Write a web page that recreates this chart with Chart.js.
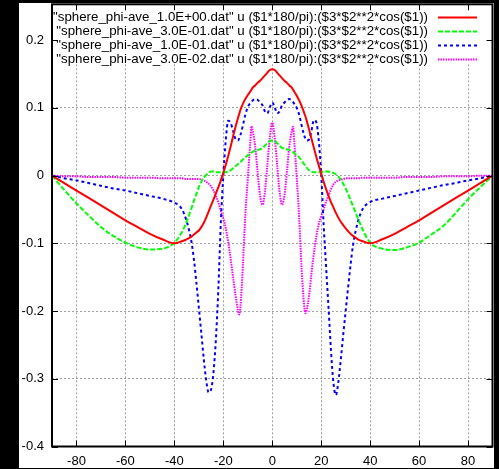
<!DOCTYPE html>
<html>
<head>
<meta charset="utf-8">
<script src="https://cdn.jsdelivr.net/npm/chart.js@4.4.1/dist/chart.umd.min.js"></script>
<style>
  html, body { margin: 0; padding: 0; background: #000; }
  canvas { display: block; }
</style>
</head>
<body>
<canvas id="myChart" width="499" height="469"></canvas>
<script>
// angle in degrees (shared by all four files)
var angle = [-90, -85, -80, -75, -70, -65, -60, -55, -50, -45, -40, -37, -35,
  -33, -32, -31, -30, -29, -28, -27, -26, -25, -24, -23, -22, -21, -20, -19, -18, -17, -16, -15, -14,
  -13.5, -13, -12, -11, -10, -9, -8.5, -8, -7, -6, -5, -4, -3, -2, -1,
  0,
  1, 2, 3, 4, 5, 6, 7, 8, 8.5, 9, 10, 11, 12, 13, 13.5,
  14, 15, 16, 17, 18, 19, 20, 21, 22, 23, 24, 25, 26, 27, 28, 29, 30, 31, 32, 33,
  35, 37, 40, 45, 50, 55, 60, 65, 70, 75, 80, 85, 90];

var ave1_0E00 = [0, -0.011, -0.022, -0.033, -0.044, -0.055, -0.066, -0.076, -0.086, -0.094, -0.100, -0.097, -0.094,
  -0.090, -0.087, -0.084, -0.081, -0.076, -0.070, -0.062, -0.053, -0.044, -0.035, -0.026, -0.017, -0.007, 0.004, 0.016, 0.029, 0.043, 0.058, 0.072, 0.085,
  0.091, 0.097, 0.106, 0.113, 0.119, 0.124, 0.127, 0.130, 0.133, 0.137, 0.140, 0.144, 0.148, 0.152, 0.156,
  0.157,
  0.156, 0.152, 0.148, 0.144, 0.140, 0.137, 0.133, 0.130, 0.127, 0.124, 0.118, 0.111, 0.103, 0.093, 0.088,
  0.082, 0.069, 0.055, 0.041, 0.028, 0.015, 0.003, -0.009, -0.020, -0.030, -0.039, -0.047, -0.055, -0.062, -0.068, -0.073, -0.078, -0.082, -0.086, -0.089,
  -0.094, -0.097, -0.100, -0.094, -0.086, -0.076, -0.066, -0.055, -0.044, -0.033, -0.022, -0.011, 0];

var ave3_0E01 = [0, -0.021, -0.041, -0.059, -0.076, -0.089, -0.099, -0.106, -0.109, -0.108, -0.099, -0.084, -0.068,
  -0.048, -0.037, -0.027, -0.017, -0.009, -0.003, 0.001, 0.004, 0.006, 0.006, 0.005, 0.005, 0.005, 0.005, 0.005, 0.006, 0.008, 0.011, 0.014, 0.017,
  0.019, 0.020, 0.024, 0.027, 0.030, 0.032, 0.034, 0.035, 0.037, 0.038, 0.039, 0.041, 0.044, 0.048, 0.051,
  0.052,
  0.051, 0.048, 0.044, 0.041, 0.040, 0.039, 0.038, 0.036, 0.035, 0.033, 0.030, 0.027, 0.022, 0.017, 0.015,
  0.012, 0.008, 0.006, 0.005, 0.005, 0.005, 0.005, 0.006, 0.006, 0.006, 0.005, 0.004, 0.002, -0.001, -0.006, -0.012, -0.019, -0.027, -0.036, -0.045,
  -0.063, -0.080, -0.099, -0.108, -0.110, -0.106, -0.099, -0.087, -0.074, -0.055, -0.035, -0.017, 0];

var ave1_0E01 = [0, -0.004, -0.007, -0.011, -0.015, -0.019, -0.022, -0.026, -0.030, -0.034, -0.040, -0.049, -0.067,
  -0.098, -0.124, -0.158, -0.195, -0.232, -0.270, -0.302, -0.320, -0.316, -0.290, -0.240, -0.165, -0.068, 0.000, 0.052, 0.081, 0.078, 0.066, 0.054, 0.052,
  0.055, 0.060, 0.074, 0.090, 0.101, 0.107, 0.109, 0.111, 0.113, 0.112, 0.108, 0.104, 0.095, 0.092, 0.101,
  0.108,
  0.101, 0.092, 0.095, 0.104, 0.108, 0.112, 0.113, 0.111, 0.109, 0.106, 0.100, 0.090, 0.074, 0.060, 0.055,
  0.052, 0.053, 0.066, 0.082, 0.079, 0.052, 0.002, -0.072, -0.135, -0.195, -0.258, -0.306, -0.324, -0.305, -0.272, -0.235, -0.200, -0.165, -0.132, -0.103,
  -0.068, -0.049, -0.039, -0.034, -0.030, -0.026, -0.022, -0.018, -0.014, -0.011, -0.007, -0.004, 0];

var ave3_0E02 = [0, -0.001, -0.001, -0.002, -0.002, -0.002, -0.003, -0.003, -0.003, -0.004, -0.004, -0.004, -0.005,
  -0.005, -0.005, -0.005, -0.005, -0.006, -0.007, -0.009, -0.012, -0.016, -0.022, -0.030, -0.040, -0.052, -0.063, -0.078, -0.098, -0.123, -0.150, -0.177, -0.199,
  -0.205, -0.194, -0.133, -0.058, -0.005, 0.048, 0.073, 0.066, 0.044, 0.006, -0.029, -0.043, -0.024, 0.016, 0.056,
  0.078,
  0.056, 0.016, -0.024, -0.043, -0.029, 0.006, 0.044, 0.066, 0.072, 0.050, -0.002, -0.062, -0.138, -0.190, -0.203,
  -0.200, -0.178, -0.145, -0.115, -0.090, -0.072, -0.060, -0.050, -0.038, -0.029, -0.020, -0.013, -0.009, -0.007, -0.006, -0.005, -0.004, -0.004, -0.004, -0.004,
  -0.004, -0.003, -0.003, -0.003, -0.003, -0.002, -0.002, -0.002, -0.001, -0.001, -0.001, 0, 0];

var seriesLabels = [
  '"sphere_phi-ave_1.0E+00.dat" u ($1*180/pi):($3*$2**2*cos($1))',
  '"sphere_phi-ave_3.0E-01.dat" u ($1*180/pi):($3*$2**2*cos($1))',
  '"sphere_phi-ave_1.0E-01.dat" u ($1*180/pi):($3*$2**2*cos($1))',
  '"sphere_phi-ave_3.0E-02.dat" u ($1*180/pi):($3*$2**2*cos($1))'
];

var xTicks = [-80, -60, -40, -20, 0, 20, 40, 60, 80];
var yTicks = [-0.4, -0.3, -0.2, -0.1, 0, 0.1, 0.2];

var FONT = '"Liberation Sans", Arial, sans-serif';

function toPoints(values) {
  return angle.map(function(a, i) { return {x: a, y: values[i]}; });
}

function makeSet(label, values, color, dash) {
  return {
    label: label,
    data: toPoints(values),
    borderColor: color,
    backgroundColor: color,
    borderWidth: 2,
    borderDash: dash,
    pointRadius: 0,
    fill: false,
    cubicInterpolationMode: 'monotone'
  };
}

// gnuplot-like frame, inward ticks and opaque key
var gnuplotLook = {
  id: 'gnuplotLook',
  beforeDraw: function(chart) {
    var ctx = chart.ctx;
    ctx.save();
    ctx.fillStyle = '#000';
    ctx.fillRect(0, 0, chart.width, chart.height);
    ctx.fillStyle = '#fff';
    ctx.fillRect(19, 3, 475, 465);
    ctx.restore();
  },
  beforeDatasetsDraw: function(chart) {
    // key box hides the grid behind it
    var a = chart.chartArea;
    chart.ctx.save();
    chart.ctx.fillStyle = '#fff';
    chart.ctx.fillRect(a.left, a.top, a.right - a.left, 64 - a.top);
    chart.ctx.restore();
  },
  afterDatasetsDraw: function(chart) {
    var ctx = chart.ctx;
    var a = chart.chartArea;
    var xs = chart.scales.x, ys = chart.scales.y;
    ctx.save();

    // ticks pointing inwards on all four sides
    ctx.strokeStyle = '#000';
    ctx.lineWidth = 1;
    ctx.beginPath();
    xTicks.forEach(function(v) {
      var px = Math.round(xs.getPixelForValue(v)) + 0.5;
      ctx.moveTo(px, a.bottom); ctx.lineTo(px, a.bottom - 6);
      ctx.moveTo(px, a.top); ctx.lineTo(px, a.top + 6);
    });
    yTicks.forEach(function(v) {
      var py = Math.round(ys.getPixelForValue(v)) + 0.5;
      ctx.moveTo(a.left, py); ctx.lineTo(a.left + 6, py);
      ctx.moveTo(a.right, py); ctx.lineTo(a.right - 6, py);
    });
    ctx.stroke();

    // frame
    ctx.lineWidth = 2;
    ctx.strokeRect(a.left, a.top, a.right - a.left, a.bottom - a.top);

    // key, text right aligned then line sample
    ctx.font = '13.3px ' + FONT;
    ctx.textAlign = 'right';
    ctx.textBaseline = 'middle';
    chart.data.datasets.forEach(function(ds, i) {
      var y = 17.5 + i * 14;
      ctx.fillStyle = '#000';
      ctx.fillText(ds.label, 428, y);
      ctx.strokeStyle = ds.borderColor;
      ctx.lineWidth = 2;
      ctx.setLineDash(ds.borderDash);
      ctx.beginPath();
      ctx.moveTo(438, y);
      ctx.lineTo(477, y);
      ctx.stroke();
      ctx.setLineDash([]);
    });
    ctx.restore();
  }
};

function drawChart() {
  var ctx = document.getElementById('myChart').getContext('2d');
  var chart = new Chart(ctx, {
    type: 'line',
    data: {
      datasets: [
        makeSet(seriesLabels[0], ave1_0E00, '#ff0000', []),
        makeSet(seriesLabels[1], ave3_0E01, '#00ff00', [5, 2]),
        makeSet(seriesLabels[2], ave1_0E01, '#0000ff', [3, 3]),
        makeSet(seriesLabels[3], ave3_0E02, '#ff00ff', [1.5, 1])
      ]
    },
    options: {
      responsive: false,
      animation: false,
      layout: { padding: { left: 0, right: 6.5, top: 4.3, bottom: 0 } },
      plugins: { legend: { display: false }, tooltip: { enabled: false } },
      scales: {
        x: {
          type: 'linear',
          min: -90,
          max: 90,
          afterBuildTicks: function(scale) {
            scale.ticks = xTicks.map(function(v) { return {value: v}; });
          },
          afterFit: function(scale) {
            scale.height = 22.5;
            scale.paddingLeft = 0;
            scale.paddingRight = 0;
          },
          grid: { color: '#a0a0a0', lineWidth: 1, drawTicks: false },
          border: { display: false, dash: [2, 2] },
          ticks: {
            color: '#000',
            font: { family: FONT, size: 13 },
            padding: 7,
            maxRotation: 0,
            callback: function(v) { return String(v); }
          }
        },
        y: {
          type: 'linear',
          min: -0.4,
          max: 0.253,
          afterBuildTicks: function(scale) {
            scale.ticks = yTicks.map(function(v) { return {value: v}; });
          },
          afterFit: function(scale) {
            scale.width = 52;
            scale.paddingTop = 0;
            scale.paddingBottom = 0;
          },
          grid: { color: '#a0a0a0', lineWidth: 1, drawTicks: false },
          border: { display: false, dash: [2, 2] },
          ticks: {
            color: '#000',
            font: { family: FONT, size: 13 },
            padding: 8,
            callback: function(v) { return String(+v.toFixed(1)); }
          }
        }
      }
    },
    plugins: [gnuplotLook]
  });
}

drawChart();
</script>
</body>
</html>
